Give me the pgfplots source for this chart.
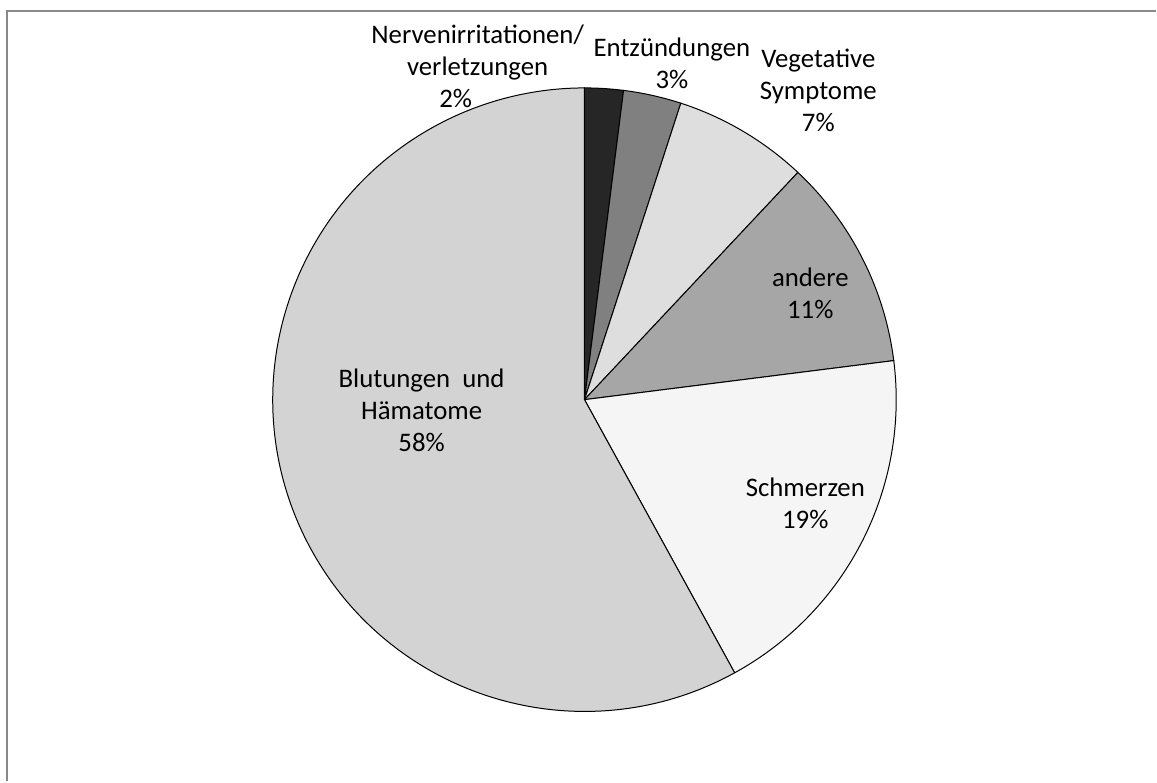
\documentclass[border=0pt]{standalone}
\usepackage{pgfplots}
\pgfplotsset{compat=1.18}
\usepackage{fontspec}
\setmainfont{Carlito}

\definecolor{cNerv}{HTML}{262626}
\definecolor{cEntz}{HTML}{808080}
\definecolor{cVeg}{HTML}{DEDEDE}
\definecolor{cAnd}{HTML}{A6A6A6}
\definecolor{cSchm}{HTML}{F5F5F5}
\definecolor{cBlut}{HTML}{D3D3D3}
\definecolor{frame}{HTML}{898989}

\tikzset{lbl/.style={align=center, font=\fontsize{13.4}{16}\selectfont}}

% slice: #1 = share before it (%), #2 = its share (%), #3 = fill
\newcommand\pieslice[3]{%
  \pgfmathsetmacro\sa{90-3.6*#1}%
  \pgfmathsetmacro\ea{90-3.6*(#1+#2)}%
  \edef\tmp{\noexpand\filldraw[fill=#3,draw=black,line width=0.5pt]
    (axis cs:0,0) -- ++(\sa:156pt) arc[start angle=\sa,end angle=\ea,radius=156pt] -- cycle;}%
  \tmp}

\begin{document}
\begin{tikzpicture}
\begin{axis}[
    hide axis,
    x=0.5pt, y=0.5pt,
    xmin=-585, xmax=572,
    ymin=-382, ymax=400,
    clip=false,
]
    \path (axis cs:-585,-382) rectangle (axis cs:572,400);
    % chart frame (cut off at right and bottom)
    \draw[frame, line width=1pt] (axis cs:-578,-382) -- (axis cs:-578,389) -- (axis cs:572,389);

    \pieslice{0}{2}{cNerv}
    \pieslice{2}{3}{cEntz}
    \pieslice{5}{7}{cVeg}
    \pieslice{12}{11}{cAnd}
    \pieslice{23}{19}{cSchm}
    \pieslice{42}{58}{cBlut}

    \node[lbl] at (axis cs:-107,333.5) {Nervenirritationen/\\verletzungen\\2\%\hspace*{22pt}};
    \node[lbl] at (axis cs:87.5,336.5) {Entzündungen\\3\%};
    \node[lbl] at (axis cs:234,310) {Vegetative\\Symptome\\7\%};
    \node[lbl] at (axis cs:226,106) {andere\\11\%};
    \node[lbl] at (axis cs:221,-103.5) {Schmerzen\\19\%};
    \node[lbl] at (axis cs:-163,-10.5) {Blutungen\ \ und\\Hämatome\\58\%};
\end{axis}
\end{tikzpicture}
\end{document}
